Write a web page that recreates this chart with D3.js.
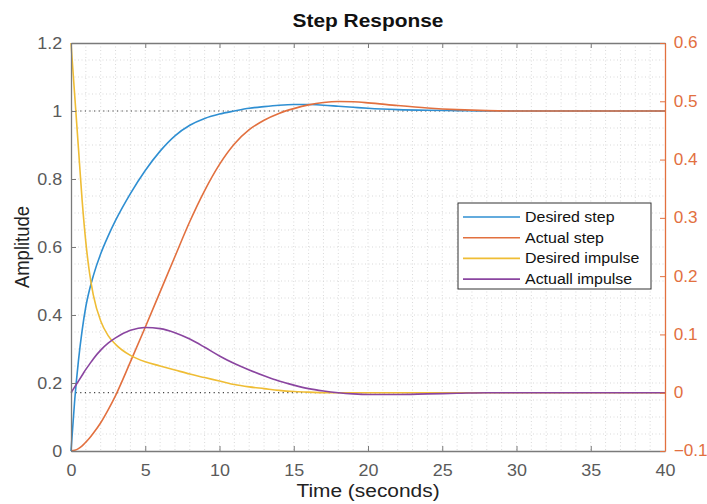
<!DOCTYPE html>
<html>
<head>
<meta charset="utf-8">
<script src="https://cdn.jsdelivr.net/npm/d3@7"></script>
<style>
  body { margin: 0; background: #fff; }
  text { font-family: "Liberation Sans", Arial, sans-serif; }
</style>
</head>
<body>
<svg width="707" height="504"></svg>
<script>
"use strict"

const time = [0, 0.25, 0.5, 0.75, 1, 1.25, 1.5, 2, 2.5, 3,
    4, 5, 6, 7, 8, 9, 10, 11, 12, 13, 14, 15, 16, 17, 18, 19, 20,
    22, 24, 26, 28, 30, 35, 40]

const desiredStep = [0, 0.15, 0.265, 0.355, 0.425, 0.475, 0.515, 0.58, 0.632, 0.678,
    0.757, 0.825, 0.882, 0.927, 0.958, 0.978, 0.991, 1.0, 1.008, 1.013, 1.017, 1.019, 1.019, 1.017, 1.014, 1.011, 1.008,
    1.004, 1.002, 1.001, 1.0, 1.0, 1.0, 1.0]

const actualStep = [0, 0.002, 0.007, 0.015, 0.026, 0.038, 0.052, 0.083, 0.121, 0.163,
    0.262, 0.364, 0.468, 0.572, 0.675, 0.766, 0.843, 0.903, 0.945, 0.973, 0.993, 1.007, 1.018, 1.025, 1.028, 1.027, 1.024,
    1.016, 1.009, 1.004, 1.001, 1.0, 1.0, 1.0]

const desiredImpulse = [0.6, 0.51, 0.42, 0.33, 0.258, 0.205, 0.168, 0.123, 0.098, 0.083,
    0.064, 0.053, 0.046, 0.039, 0.032, 0.026, 0.02, 0.014, 0.01, 0.007, 0.004, 0.002, 0.001, 0, 0, 0, 0,
    0, 0, 0, 0, 0, 0, 0]

const actualImpulse = [0, 0.01, 0.02, 0.03, 0.04, 0.049, 0.058, 0.073, 0.085, 0.094,
    0.107, 0.112, 0.11, 0.103, 0.092, 0.078, 0.063, 0.05, 0.039, 0.029, 0.02, 0.013, 0.007, 0.003, 0, -0.002, -0.003,
    -0.003, -0.002, -0.001, 0, 0, 0, 0]

const xTicks = [0, 5, 10, 15, 20, 25, 30, 35, 40]
const leftTicks = [0, 0.2, 0.4, 0.6, 0.8, 1, 1.2]
const rightTicks = [-0.1, 0, 0.1, 0.2, 0.3, 0.4, 0.5, 0.6]

const legendLabels = ["Desired step", "Actual step", "Desired impulse", "Actuall impulse"]

const BLUE = "#2f8fd2"
const ORANGE = "#e2703f"
const YELLOW = "#efbd35"
const PURPLE = "#8a45a0"
const AXIS_GRAY = "#7a7a7a"
const LABEL_GRAY = "#5a5a5a"
// the reference text is drawn a little wider than it is tall
const STRETCH = 1.1

const plotLeft = 71, plotRight = 665, plotTop = 43, plotBottom = 451

const svg = d3.select("svg")

const x = d3.scaleLinear().domain([0, 40]).range([plotLeft, plotRight])
const yL = d3.scaleLinear().domain([0, 1.2]).range([plotBottom, plotTop])
const yR = d3.scaleLinear().domain([-0.1, 0.6]).range([plotBottom, plotTop])

// minor grid, dotted
const grid = svg.append("g").attr("stroke", "#d9d9d9").attr("stroke-dasharray", "1,2.5")
grid.selectAll(".vg").data(d3.range(1, 40)).join("line")
    .attr("x1", (d) => x(d)).attr("x2", (d) => x(d))
    .attr("y1", plotTop).attr("y2", plotBottom)
grid.selectAll(".hg").data(d3.range(1, 24).map((i) => i * 0.05)).join("line")
    .attr("y1", (d) => yL(d)).attr("y2", (d) => yL(d))
    .attr("x1", plotLeft).attr("x2", plotRight)

// steady state dotted lines
svg.append("line")
    .attr("x1", plotLeft).attr("x2", plotRight)
    .attr("y1", yL(1)).attr("y2", yL(1))
    .attr("stroke", "#444").attr("stroke-width", 1.2).attr("stroke-dasharray", "1.2,3.4")
svg.append("line")
    .attr("x1", plotLeft).attr("x2", plotRight)
    .attr("y1", yR(0)).attr("y2", yR(0))
    .attr("stroke", "#444").attr("stroke-width", 1.2).attr("stroke-dasharray", "1.2,3.4")

// curves
const series = [
    { values: desiredStep, scale: yL, color: BLUE },
    { values: actualStep, scale: yL, color: ORANGE },
    { values: desiredImpulse, scale: yR, color: YELLOW },
    { values: actualImpulse, scale: yR, color: PURPLE }
]

const plot = svg.append("g")
series.forEach((s) => {
    const line = d3.line()
        .x((d, i) => x(time[i]))
        .y((d) => s.scale(d))
        .curve(d3.curveMonotoneX)
    plot.append("path")
        .attr("d", line(s.values))
        .attr("fill", "none")
        .attr("stroke", s.color)
        .attr("stroke-width", 1.6)
})

// axes
const tickSize = 5
const xAxisBottom = d3.axisBottom(x).tickValues(xTicks).tickSizeInner(-tickSize).tickSizeOuter(0).tickPadding(13)
const xAxisTop = d3.axisTop(x).tickValues(xTicks).tickSizeInner(-tickSize).tickSizeOuter(0).tickFormat("")
const yAxisLeft = d3.axisLeft(yL).tickValues(leftTicks).tickSizeInner(-tickSize).tickSizeOuter(0).tickPadding(8)
    .tickFormat(d3.format("~g"))
const yAxisRight = d3.axisRight(yR).tickValues(rightTicks).tickSizeInner(-tickSize).tickSizeOuter(0).tickPadding(8)
    .tickFormat(d3.format("~g"))

const styleAxis = (g, color, labelColor, size) => {
    g.select(".domain").attr("stroke", color).attr("stroke-width", 1.3)
    g.selectAll(".tick line").attr("stroke", color)
    g.selectAll(".tick text").attr("fill", labelColor)
        .style("font-family", "'Liberation Sans', Arial, sans-serif")
        .style("font-size", size)
        .attr("transform", `scale(${STRETCH},1)`)
}

svg.append("g").attr("transform", `translate(0,${plotBottom})`).call(xAxisBottom)
    .call((g) => styleAxis(g, AXIS_GRAY, LABEL_GRAY, "16.3px"))
svg.append("g").attr("transform", `translate(0,${plotTop})`).call(xAxisTop)
    .call((g) => styleAxis(g, AXIS_GRAY, LABEL_GRAY, "16.3px"))
svg.append("g").attr("transform", `translate(${plotLeft},0)`).call(yAxisLeft)
    .call((g) => styleAxis(g, AXIS_GRAY, LABEL_GRAY, "16.3px"))
svg.append("g").attr("transform", `translate(${plotRight},0)`).call(yAxisRight)
    .call((g) => styleAxis(g, ORANGE, ORANGE, "15.6px"))

// titles
svg.append("text")
    .attr("transform", `translate(${(plotLeft + plotRight) / 2},27) scale(${STRETCH},1)`)
    .attr("text-anchor", "middle")
    .attr("font-size", "19px").attr("font-weight", "bold").attr("fill", "#111")
    .text("Step Response")
svg.append("text")
    .attr("transform", `translate(${(plotLeft + plotRight) / 2},497) scale(${STRETCH},1)`)
    .attr("text-anchor", "middle")
    .attr("font-size", "19px").attr("fill", "#222")
    .text("Time (seconds)")
svg.append("text")
    .attr("transform", `translate(29,${(plotTop + plotBottom) / 2}) scale(${STRETCH},1) rotate(-90)`)
    .attr("text-anchor", "middle")
    .attr("font-size", "18.5px").attr("fill", "#222")
    .text("Amplitude")

// legend
const legend = svg.append("g").attr("transform", "translate(458,203)")
legend.append("rect")
    .attr("width", 193).attr("height", 86)
    .attr("fill", "#fff").attr("stroke", "#333").attr("stroke-width", 1)
legendLabels.forEach((label, i) => {
    const yy = 14 + i * 20.7
    legend.append("line")
        .attr("x1", 5).attr("x2", 62).attr("y1", yy).attr("y2", yy)
        .attr("stroke", series[i].color).attr("stroke-width", 1.6)
    legend.append("text")
        .attr("transform", `translate(67,${yy + 5}) scale(${STRETCH},1)`)
        .attr("font-size", "14.5px").attr("fill", "#111")
        .text(label)
})
</script>
</body>
</html>
